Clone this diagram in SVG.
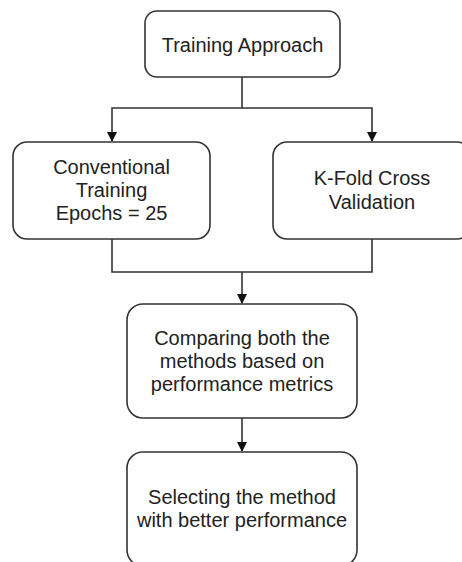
<svg xmlns="http://www.w3.org/2000/svg" width="462" height="562" viewBox="0 0 462 562">
<style>
.box{fill:#fff;stroke:#333;stroke-width:1.6}
.t{font-family:"Liberation Sans",Arial,sans-serif;font-size:20px;fill:#222;text-anchor:middle}
.c{fill:none;stroke:#333;stroke-width:1.6}
</style>
<defs>
<marker id="ah" markerWidth="10" markerHeight="10" refX="9" refY="5" orient="auto" markerUnits="userSpaceOnUse">
<path d="M0,0 L10,5 L0,10 Z" fill="#111"/>
</marker>
</defs>
<rect width="462" height="562" fill="#fff"/>
<g id="connectors">
<path class="c" d="M242,77 V108 H112 V141" marker-end="url(#ah)"/>
<path class="c" d="M242,108 H372 V141" marker-end="url(#ah)"/>
<path class="c" d="M112,239 V272 H372 V239"/>
<path class="c" d="M242,272 V303" marker-end="url(#ah)"/>
<path class="c" d="M242,418 V451" marker-end="url(#ah)"/>
</g>
<g id="n1">
<rect class="box" x="145" y="11" width="195" height="66" rx="12"/>
<text class="t" x="242.5" y="52">Training Approach</text>
</g>
<g id="n2">
<rect class="box" x="13" y="142" width="197" height="97" rx="14"/>
<text class="t" x="111.5" y="174">Conventional</text>
<text class="t" x="111.5" y="197">Training</text>
<text class="t" x="111.5" y="220">Epochs = 25</text>
</g>
<g id="n3">
<rect class="box" x="273" y="142" width="198" height="97" rx="14"/>
<text class="t" x="372" y="185">K-Fold Cross</text>
<text class="t" x="372" y="209">Validation</text>
</g>
<g id="n4">
<rect class="box" x="127" y="304" width="230" height="114" rx="16"/>
<text class="t" x="242" y="345">Comparing both the</text>
<text class="t" x="242" y="368">methods based on</text>
<text class="t" x="242" y="391">performance metrics</text>
</g>
<g id="n5">
<rect class="box" x="127" y="452" width="230" height="114" rx="16"/>
<text class="t" x="242" y="504">Selecting the method</text>
<text class="t" x="242" y="527">with better performance</text>
</g>
</svg>
